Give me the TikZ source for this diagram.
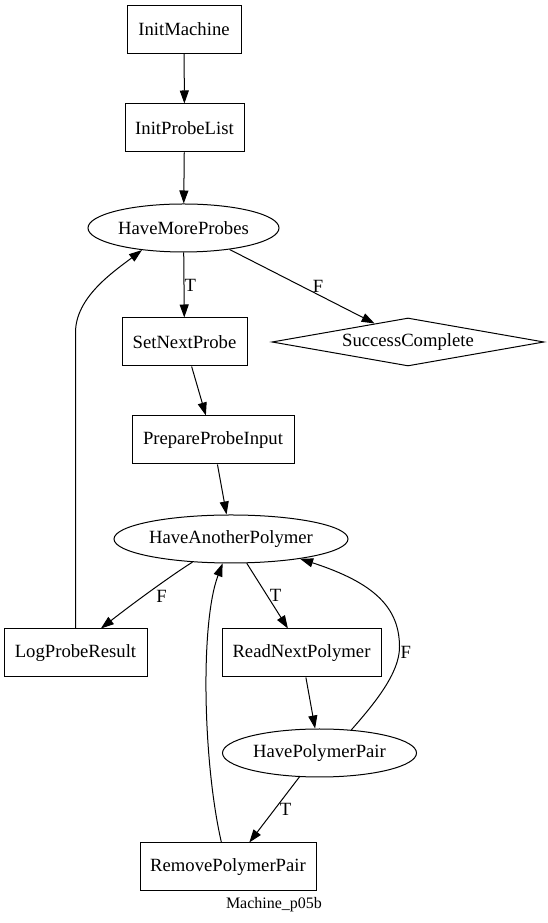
\documentclass[tikz,border=0pt]{standalone}
\usepackage{fontspec}
\setmainfont{Liberation Serif}
\usetikzlibrary{arrows.meta,shapes.geometric}
\newcommand{\statefont}{\fontsize{18.67}{22}\selectfont}
\newcommand{\capfont}{\fontsize{16}{19}\selectfont}
\tikzset{
  state/.style={draw, rectangle, line width=1pt, minimum height=48pt, inner sep=0pt, font=\statefont},
  test/.style={draw, ellipse, line width=1pt, minimum height=48pt, inner sep=0pt, font=\statefont},
  goal/.style={draw, diamond, aspect=5.6, line width=1pt, minimum height=48pt, inner sep=0pt, font=\statefont},
  edge/.style={-{Triangle[length=13pt,width=9pt]}, line width=1pt},
  elabel/.style={font=\statefont, inner sep=0pt}
}
\begin{document}
\begin{tikzpicture}[x=1pt, y=1pt]
    \useasboundingbox (0,0) rectangle (548,923);
    % Setup chain
    \node[state, minimum width=114pt] (initMachine) at (184,893.5) {InitMachine};
    \node[state, minimum width=119pt] (initProbeList) at (184.5,795) {InitProbeList};
    \node[test, minimum width=191pt] (moreProbes) at (183.5,695) {HaveMoreProbes};
    % Probe loop
    \node[state, minimum width=125pt] (setNextProbe) at (184.5,581) {SetNextProbe};
    \node[goal, minimum width=272pt] (success) at (408,581) {SuccessComplete};
    \node[state, minimum width=162pt] (prepInput) at (213,483) {PrepareProbeInput};
    \node[test, minimum width=234pt] (anotherPoly) at (231,384) {HaveAnotherPolymer};
    % Polymer loop
    \node[state, minimum width=143pt] (logResult) at (75.5,270) {LogProbeResult};
    \node[state, minimum width=159pt] (readNext) at (301.5,270) {ReadNextPolymer};
    \node[test, minimum width=194pt] (polyPair) at (319.5,170) {HavePolymerPair};
    \node[state, minimum width=176pt] (removePair) at (228,56) {RemovePolymerPair};
    \coordinate (fBend) at (399.5,276);

    % Caption
    \node[font=\capfont] (caption) at (274,18) {Machine\_p05b};

    % Edges
    \draw[edge] (initMachine) -- (initProbeList);
    \draw[edge] (initProbeList) -- (moreProbes);
    \draw[edge] (moreProbes) -- node[elabel, right] {T} (setNextProbe);
    \draw[edge] (moreProbes.-25) -- node[elabel, above, pos=0.61, inner sep=2pt] {F} (success.151);
    \draw[edge] (setNextProbe) -- (prepInput);
    \draw[edge] (prepInput) -- (anotherPoly);
    \draw[edge] (anotherPoly.211) .. controls (178,352) and (140,325) .. node[elabel, pos=0.5, anchor=north west, yshift=-3pt] {F} (logResult.44);
    \draw[edge] (anotherPoly.-57) -- node[elabel, right, inner sep=2pt] {T} (readNext.119);
    \draw[edge] (readNext) -- (polyPair);
    \draw[edge] (polyPair.36) .. controls (375,220) and (399.5,250) .. (fBend) node[elabel, anchor=west, yshift=-5pt, inner sep=0.5pt] {F}
        .. controls (399.5,315) and (375,340) .. (anotherPoly.-16);
    \draw[edge] (polyPair.230) -- node[elabel, right, inner sep=5pt] {T} (removePair.49);
    \draw[edge] (removePair.105) .. controls (203,160) and (200,300) .. (anotherPoly.251);
    \draw[edge] (logResult.north) -- ++(0,296) .. controls +(0,35) and +(-29,-22) .. (moreProbes.208);
\end{tikzpicture}
\end{document}
